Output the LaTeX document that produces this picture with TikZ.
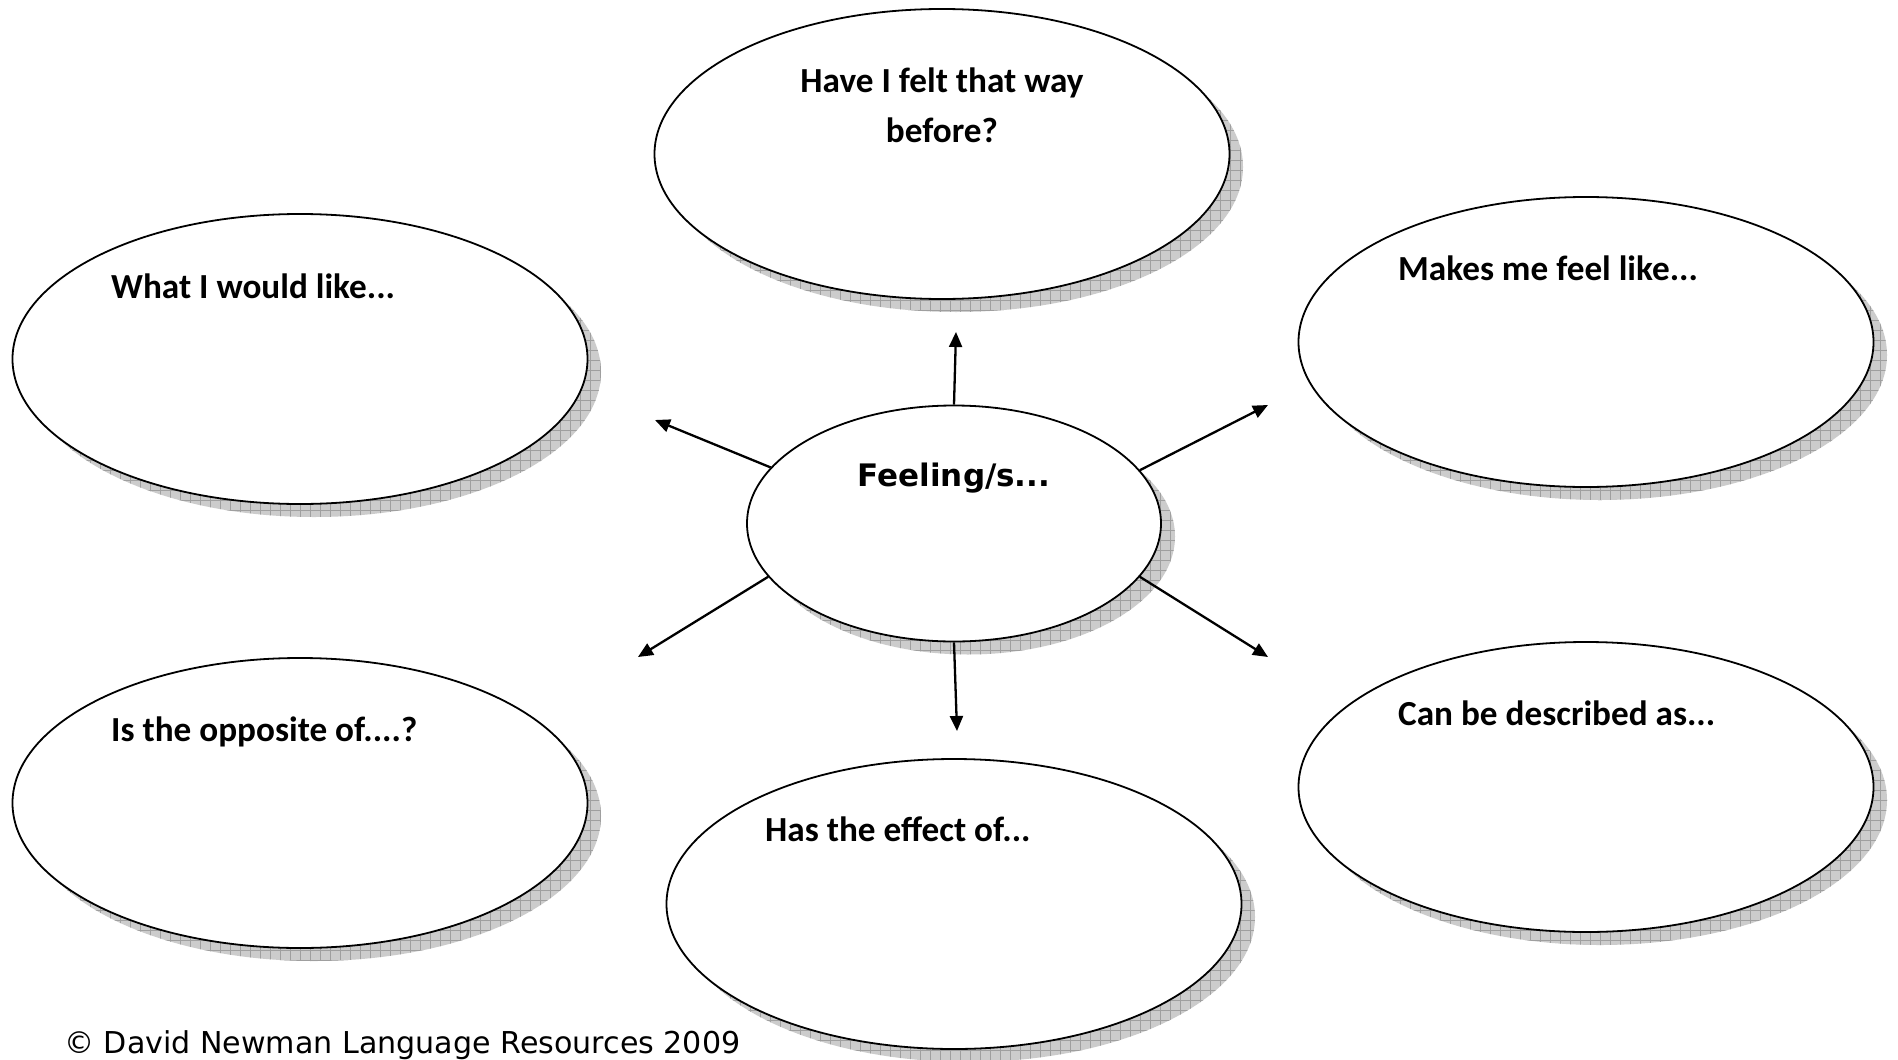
\documentclass[tikz,border=0pt]{standalone}
\usepackage{fontspec}
\setmainfont{Carlito}
\newfontfamily\feelfont{DejaVu Sans}
\newfontfamily\copyfont{DejaVu Sans}
\usetikzlibrary{arrows.meta,shapes.geometric}
\newcommand\myshadow[4]{%
  \begin{scope}
    \clip (#1+14,#2+13) ellipse [x radius=#3, y radius=#4];
    \fill[gray!40] (#1-#3,#2-#4) rectangle (#1+#3+30,#2+#4+30);
    \draw[gray!75, line width=0.7pt, step=10pt] (#1-#3,#2-#4) grid (#1+#3+30,#2+#4+30);
  \end{scope}}
\tikzset{
  bubble/.style={ellipse, draw=black, fill=white, line width=1.8pt, inner sep=0pt,
    minimum width=575pt, minimum height=290pt},
  lbl/.style={anchor=base west, inner sep=0pt, font=\fontsize{35.2}{40}\selectfont\bfseries},
  conn/.style={line width=2.3pt, -{Triangle[length=15pt,width=13pt]}}
}
\begin{document}
\begin{tikzpicture}[x=1pt,y=-1pt]
\useasboundingbox[fill=white] (0,0) rectangle (1898,1060);
% shadows
\myshadow{942}{154}{287}{145}
\myshadow{300}{359}{287}{145}
\myshadow{1586}{342}{287}{145}
\myshadow{300}{803}{287}{145}
\myshadow{954}{904}{287}{145}
\myshadow{1586}{787}{287}{145}
\myshadow{954}{523.5}{207}{118}
% bubbles
\node[bubble] (top) at (942,154) {};
\node[bubble] (tl) at (300,359) {};
\node[bubble] (tr) at (1586,342) {};
\node[bubble] (bl) at (300,803) {};
\node[bubble] (bm) at (954,904) {};
\node[bubble] (br) at (1586,787) {};
\node[bubble, minimum width=414pt, minimum height=236pt] (c) at (954,523.5) {};
% labels
\node[font=\fontsize{35.2}{40}\selectfont\bfseries, inner sep=0pt, anchor=base] (t1) at (942,92) {Have I felt that way};
\node[font=\fontsize{35.2}{40}\selectfont\bfseries, inner sep=0pt, anchor=base] (t2) at (942,142) {before?};
\node[lbl] (l1) at (111,298) {What I would like...};
\node[lbl] (l2) at (1398,280) {Makes me feel like...};
\node[lbl] (l3) at (111,741) {Is the opposite of....?};
\node[lbl] (l4) at (765,841) {Has the effect of...};
\node[lbl] (l5) at (1398,725) {Can be described as...};
\node[font=\feelfont\fontsize{31}{36}\selectfont\bfseries, inner sep=0pt, anchor=base] (fl) at (954,486) {Feeling/s...};
\node[font=\copyfont\fontsize{30.1}{34}\selectfont, inner sep=0pt, anchor=base west] (cp) at (64,1053) {© David Newman Language Resources 2009};
% connectors
\coordinate (eu) at (956,332);
\coordinate (ed) at (957,731);
\coordinate (eul) at (655,420);
\coordinate (eur) at (1268,405);
\coordinate (ell) at (638,657);
\coordinate (elr) at (1268,657);
\draw[conn] (c.north) -- (eu);
\draw[conn] (c.south) -- (ed);
\draw[conn] (c.163) -- (eul);
\draw[conn] (c.16) -- (eur);
\draw[conn] (c.196) -- (ell);
\draw[conn] (c.-16) -- (elr);
\end{tikzpicture}
\end{document}
